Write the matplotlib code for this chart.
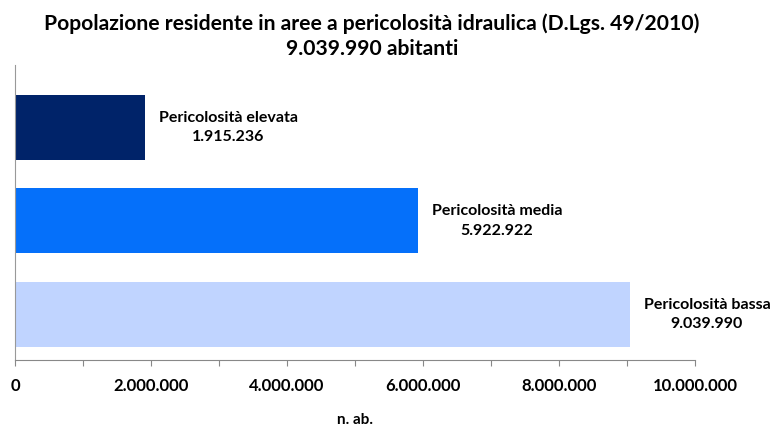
import matplotlib
matplotlib.use('Agg')
import matplotlib.pyplot as plt
from matplotlib.ticker import FuncFormatter, MultipleLocator

# dati
categorie = ['Pericolosità elevata', 'Pericolosità media', 'Pericolosità bassa']
abitanti = [1915236, 5922922, 9039990]
colori = ['#002369', '#0570FA', '#C0D4FF']
totale = 9039990

plt.rcParams['font.family'] = ['Lato', 'DejaVu Sans']


def fmt_it(v, pos=None):
    return '{:,.0f}'.format(v).replace(',', '.')


fig = plt.figure(figsize=(7.76, 4.28), dpi=100)
ax = fig.add_axes([0.0193, 0.1589, 0.8763, 0.6892])

ypos = range(len(categorie))
ax.barh(ypos, abitanti, height=0.695, color=colori)
ax.set_ylim(2.49, -0.67)
ax.set_xlim(0, 10000000)

for y, nome, val in zip(ypos, categorie, abitanti):
    ax.annotate(nome + '\n' + fmt_it(val), xy=(val, y), xytext=(10, 0),
                textcoords='offset points', ha='left', va='center',
                multialignment='center', fontsize=11.5, fontweight='bold',
                linespacing=1.5)

ax.xaxis.set_major_locator(MultipleLocator(1000000))
ax.xaxis.set_major_formatter(FuncFormatter(lambda v, p: fmt_it(v) if round(v / 1e6) % 2 == 0 else ''))
ax.tick_params(axis='x', direction='out', length=4, color='#888888', labelsize=12, pad=9)
for lab in ax.get_xticklabels():
    lab.set_fontweight('bold')
ax.set_yticks([])
for s in ['top', 'right']:
    ax.spines[s].set_visible(False)
ax.spines['left'].set_color('#999999')
ax.spines['bottom'].set_color('#888888')

ax.set_xlabel('n. ab.', fontsize=11, fontweight='bold', labelpad=14)

fig.suptitle('Popolazione residente in aree a pericolosità idraulica (D.Lgs. 49/2010)\n'
             + fmt_it(totale) + ' abitanti', x=0.479, y=0.968, fontsize=15.2,
             fontweight='bold', linespacing=1.3)

fig.savefig('out.png', dpi=100)
